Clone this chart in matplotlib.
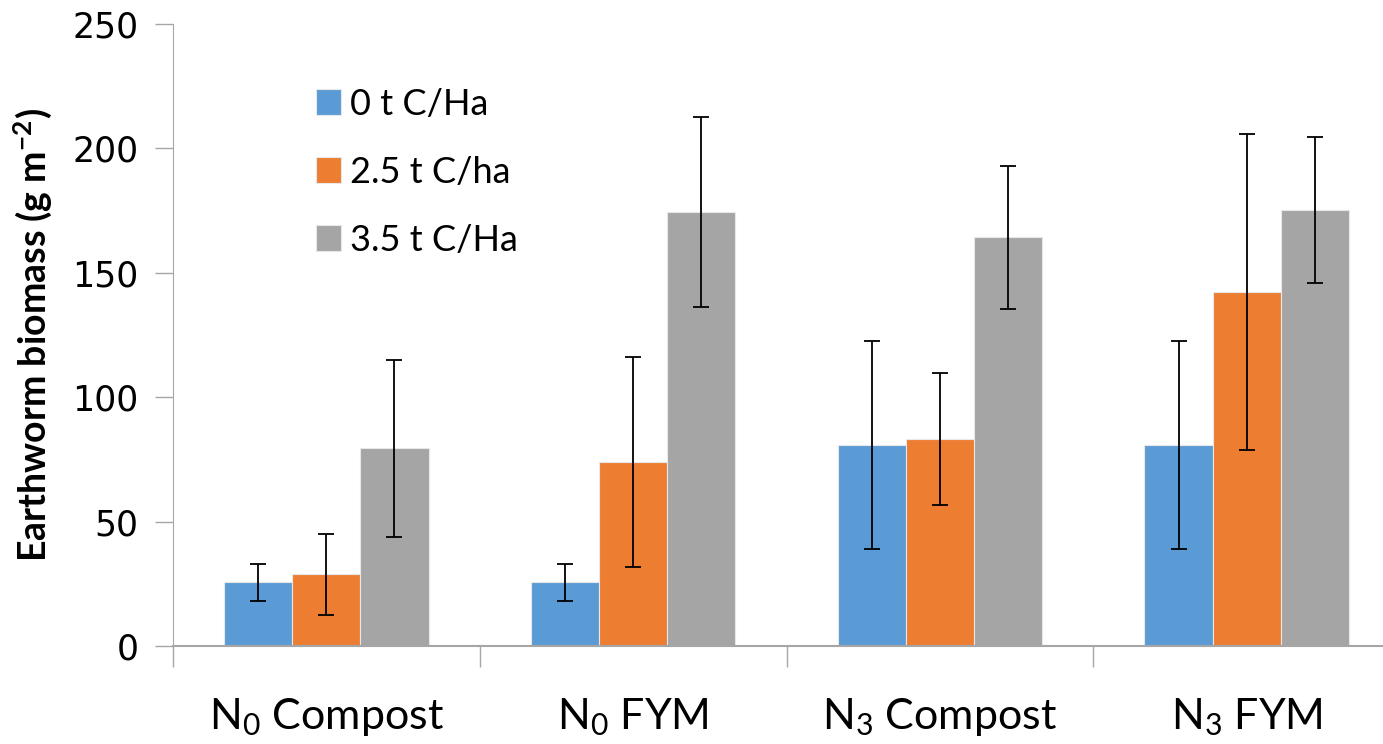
import matplotlib
matplotlib.use("Agg")
import matplotlib.pyplot as plt
import numpy as np

categories = [r"N$_0$ Compost", r"N$_0$ FYM", r"N$_3$ Compost", r"N$_3$ FYM"]
series_names = ["0 t C/Ha", "2.5 t C/ha", "3.5 t C/Ha"]
vals_0 = [25.6, 25.6, 80.8, 80.8]
vals_25 = [28.8, 74.0, 83.3, 142.3]
vals_35 = [79.4, 174.4, 164.3, 175.1]
err_0 = [7.5, 7.5, 41.8, 41.8]
err_25 = [16.2, 42.3, 26.5, 63.6]
err_35 = [35.6, 38.2, 28.8, 29.3]
yticks = [0, 50, 100, 150, 200, 250]

colors = ["#5B9BD5", "#ED7D31", "#A5A5A5"]

plt.rcParams['font.family'] = ['Lato', 'DejaVu Sans']
plt.rcParams['mathtext.fontset'] = 'custom'
plt.rcParams['mathtext.rm'] = 'Lato'
plt.rcParams['mathtext.it'] = 'Lato:italic'
plt.rcParams['mathtext.bf'] = 'Lato:bold'
plt.rcParams['mathtext.default'] = 'regular'

fig = plt.figure(figsize=(13.83, 7.44), dpi=100)
ax = fig.add_axes([173/1383, 1-646/744, (1400-173)/1383, (646-24)/744])

x = np.arange(len(categories))
w = 0.222
data = [vals_0, vals_25, vals_35]
errs = [err_0, err_25, err_35]
for i in range(3):
    ax.bar(x + (i-1)*w, data[i], w, color=colors[i], edgecolor='#e8e8e8', linewidth=0.8,
           label=series_names[i], zorder=2)
    ax.errorbar(x + (i-1)*w, data[i], yerr=errs[i], fmt='none', ecolor='black',
                elinewidth=1.3, capsize=5.5, capthick=1.3, zorder=3)

ax.set_xlim(-0.5, 3.5)
ax.set_ylim(0, 250)
ax.set_yticks(yticks)
ax.set_yticklabels([str(t) for t in yticks], family='DejaVu Sans', fontsize=25)
ax.set_xticks(np.arange(-0.5, 4.0, 1.0))
ax.set_xticklabels([])
ax.set_xticks(x, minor=True)
ax.set_xticklabels(categories, minor=True, fontsize=31)
ax.tick_params(axis='x', which='minor', length=0, pad=36)
ax.tick_params(axis='x', which='major', length=15, width=1, color='#a6a6a6', direction='out')
ax.tick_params(axis='y', length=13, width=1, color='#a6a6a6', direction='out', pad=12)

for s in ['top', 'right']:
    ax.spines[s].set_visible(False)
ax.spines['left'].set_color('#a6a6a6')
ax.spines['bottom'].set_color('#a6a6a6')
ax.spines['bottom'].set_linewidth(1.5)

ax.set_ylabel(r"Earthworm biomass (g m$^{-2}$)", fontsize=27, fontweight='bold')
ax.yaxis.set_label_coords(-0.097, 0.5)

leg = ax.legend(loc='upper left', bbox_to_anchor=(0.09, 0.95), frameon=False, fontsize=26,
                handlelength=0.7, handleheight=0.7, handletextpad=0.25, labelspacing=0.97)

fig.savefig("out.png", dpi=100)
